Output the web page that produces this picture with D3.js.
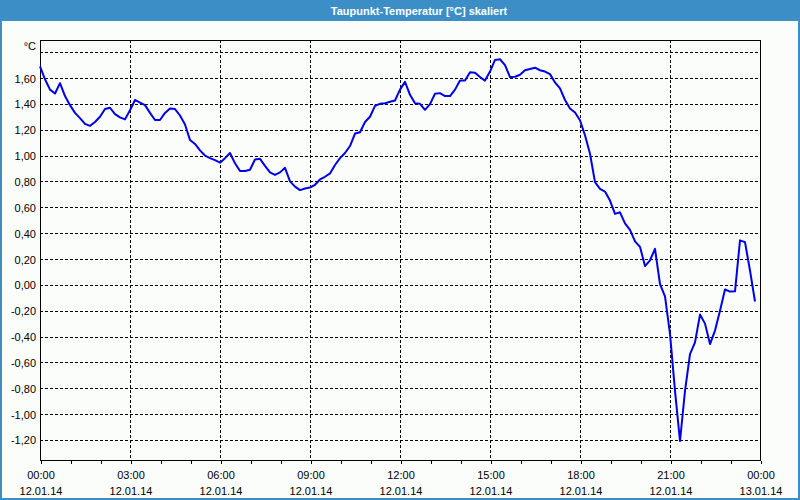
<!DOCTYPE html>
<html>
<head>
<meta charset="utf-8">
<script src="https://cdnjs.cloudflare.com/ajax/libs/d3/7.8.5/d3.min.js"></script>
<style>
  body { margin: 0; background: #fff; }
  svg { display: block; font-family: "Liberation Sans", Arial, sans-serif; }
</style>
</head>
<body>
<div id="chart"></div>
<script>
// dew point, one value every 10 minutes from 12.01.14 00:00
const startTime = new Date(2014, 0, 12, 0, 0);
const endTime = new Date(2014, 0, 13, 0, 0);
const stepMinutes = 10;
const dewPoint = [
  1.69, 1.59, 1.51, 1.48, 1.56, 1.46, 1.39, 1.33, 1.29, 1.245,
  1.23, 1.26, 1.30, 1.36, 1.37, 1.32, 1.295, 1.28, 1.35, 1.43,
  1.41, 1.39, 1.33, 1.275, 1.275, 1.33, 1.365, 1.36, 1.31, 1.24,
  1.12, 1.09, 1.04, 1.00, 0.98, 0.965, 0.945, 0.98, 1.02, 0.94,
  0.88, 0.88, 0.89, 0.97, 0.975, 0.92, 0.87, 0.85, 0.87, 0.905,
  0.80, 0.76, 0.733, 0.745, 0.753, 0.774, 0.815, 0.836, 0.862, 0.927,
  0.98, 1.02, 1.074, 1.17, 1.18, 1.26, 1.30, 1.385, 1.40, 1.405,
  1.416, 1.426, 1.51, 1.57, 1.47, 1.405, 1.40, 1.354, 1.398, 1.478,
  1.483, 1.46, 1.46, 1.51, 1.58, 1.58, 1.644, 1.64, 1.607, 1.58,
  1.65, 1.74, 1.745, 1.70, 1.607, 1.61, 1.625, 1.66, 1.67, 1.68,
  1.66, 1.65, 1.63, 1.566, 1.52, 1.43, 1.364, 1.333, 1.273, 1.157,
  1.014, 0.794, 0.743, 0.722, 0.652, 0.549, 0.561, 0.476, 0.425, 0.336,
  0.294, 0.145, 0.19, 0.278, 0.006, -0.09, -0.38, -0.82, -1.208, -0.82,
  -0.536, -0.445, -0.23, -0.30, -0.458, -0.354, -0.20, -0.036, -0.052, -0.05,
  0.344, 0.33, 0.111, -0.129
];
const yTicks = [-1.2, -1.0, -0.8, -0.6, -0.4, -0.2, 0, 0.2, 0.4, 0.6, 0.8, 1.0, 1.2, 1.4, 1.6];
const yGrid = [-1.2, -1.0, -0.8, -0.6, -0.4, -0.2, 0, 0.2, 0.4, 0.6, 0.8, 1.0, 1.2, 1.4, 1.6, 1.8];
const yDomain = [-1.355, 1.894];
const title = "Taupunkt-Temperatur [°C] skaliert";
const unit = "°C";

const width = 800, height = 500;
const plot = {left: 40, right: 760, top: 40, bottom: 460};

const data = dewPoint.map((v, i) => ({
  t: new Date(startTime.getTime() + i * stepMinutes * 60000),
  v: v
}));

const x = d3.scaleTime().domain([startTime, endTime]).range([plot.left, plot.right]);
const y = d3.scaleLinear().domain(yDomain).range([plot.bottom, plot.top]);

const de = d3.formatLocale({decimal: ",", thousands: ".", grouping: [3], currency: ["", " €"], minus: "-"});
const fmtY = de.format(".2f");
const fmtTime = d3.timeFormat("%H:%M");
const fmtDate = d3.timeFormat("%d.%m.%y");

const svg = d3.select("#chart").append("svg")
    .attr("width", width)
    .attr("height", height);

// window frame + title bar
svg.append("rect")
    .attr("x", 0).attr("y", 0)
    .attr("width", width).attr("height", height)
    .attr("fill", "#3c8fc6");
svg.append("rect")
    .attr("x", 2).attr("y", 21)
    .attr("width", width - 4).attr("height", height - 23)
    .attr("fill", "#fbfdfb");
svg.append("text")
    .attr("x", 419).attr("y", 15)
    .attr("text-anchor", "middle")
    .attr("fill", "#fff")
    .attr("font-weight", "bold")
    .attr("font-size", 11)
    .text(title);

const g = svg.append("g").attr("shape-rendering", "crispEdges");

// horizontal grid
g.append("g").selectAll("line")
  .data(yGrid)
  .enter().append("line")
    .attr("x1", plot.left).attr("x2", plot.right)
    .attr("y1", d => Math.round(y(d)) + 0.5)
    .attr("y2", d => Math.round(y(d)) + 0.5)
    .attr("stroke", "#000")
    .attr("stroke-dasharray", "3,2");

// vertical grid every 3 hours
const majorTimes = d3.timeHour.every(3).range(startTime, d3.timeMinute.offset(endTime, 1));
g.append("g").selectAll("line")
  .data(majorTimes.slice(1, -1))
  .enter().append("line")
    .attr("x1", d => Math.round(x(d)) + 0.5)
    .attr("x2", d => Math.round(x(d)) + 0.5)
    .attr("y1", plot.top).attr("y2", plot.bottom)
    .attr("stroke", "#000")
    .attr("stroke-dasharray", "3,2");

// plot frame
g.append("rect")
    .attr("x", plot.left + 0.5).attr("y", plot.top + 0.5)
    .attr("width", plot.right - plot.left).attr("height", plot.bottom - plot.top)
    .attr("fill", "none")
    .attr("stroke", "#000");

// x axis: hourly ticks, labels every 3 hours
const xAxis = d3.axisBottom(x)
    .ticks(d3.timeHour.every(1))
    .tickSize(3)
    .tickFormat("");
const xg = svg.append("g")
    .attr("transform", `translate(0.5,${plot.bottom + 0.5})`)
    .attr("shape-rendering", "crispEdges")
    .call(xAxis);
xg.select(".domain").remove();
xg.selectAll(".tick line").attr("stroke", "#000");

const labels = svg.append("g").attr("font-size", 11).attr("fill", "#000");
labels.selectAll("text.time")
  .data(majorTimes)
  .enter().append("text")
    .attr("class", "time")
    .attr("x", d => x(d) + 1)
    .attr("y", 479)
    .attr("text-anchor", "middle")
    .text(d => fmtTime(d));
labels.selectAll("text.date")
  .data(majorTimes)
  .enter().append("text")
    .attr("class", "date")
    .attr("x", d => x(d) + 1)
    .attr("y", 495)
    .attr("text-anchor", "middle")
    .text(d => fmtDate(d));

// y labels
const yAxis = d3.axisLeft(y)
    .tickValues(yTicks)
    .tickSize(0)
    .tickPadding(4)
    .tickFormat(fmtY);
const yg = svg.append("g")
    .attr("transform", `translate(${plot.left},0.5)`)
    .call(yAxis);
yg.select(".domain").remove();
yg.selectAll("text")
    .attr("font-family", "Liberation Sans, Arial, sans-serif")
    .attr("font-size", 11)
    .attr("fill", "#000");

svg.append("text")
    .attr("x", 36).attr("y", 50)
    .attr("text-anchor", "end")
    .attr("font-size", 11)
    .text(unit);

// data line
const line = d3.line()
    .x(d => x(d.t))
    .y(d => y(d.v));
svg.append("path")
    .datum(data)
    .attr("d", line)
    .attr("fill", "none")
    .attr("stroke", "#0000e8")
    .attr("stroke-width", 2)
    .attr("stroke-linejoin", "round");
</script>
</body>
</html>
